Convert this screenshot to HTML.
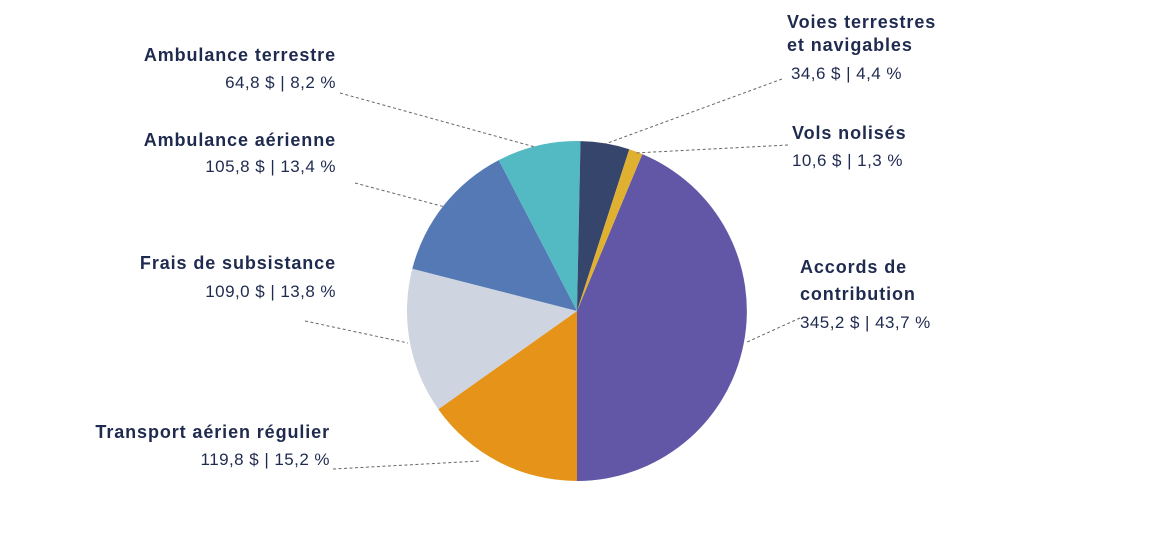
<!DOCTYPE html>
<html><head><meta charset="utf-8"><style>
html,body{margin:0;padding:0;background:#fff;}
svg{display:block;}
text{font-family:"Liberation Sans",sans-serif;fill:#1f2a4f;}
.b{font-weight:bold;font-size:18px;letter-spacing:0.9px;}
.r{font-size:17px;letter-spacing:0.45px;}
line{stroke:#666;stroke-width:1;stroke-dasharray:3,2.5;}
path{stroke:none;}
</style></head><body>
<svg width="1170" height="536" viewBox="0 0 1170 536">
<path d="M577,311 L642.3,154.1 A170,170 0 0 1 577,481 Z" fill="#6157a6"/>
<path d="M577,311 L577,481 A170,170 0 0 1 438.3,409.2 Z" fill="#e59419"/>
<path d="M577,311 L438.3,409.2 A170,170 0 0 1 412.3,268.7 Z" fill="#cfd5e0"/>
<path d="M577,311 L412.3,268.7 A170,170 0 0 1 498.8,160.1 Z" fill="#5479b5"/>
<path d="M577,311 L498.8,160.1 A170,170 0 0 1 580.5,141.1 Z" fill="#53bac4"/>
<path d="M577,311 L580.5,141.1 A170,170 0 0 1 629.3,149.2 Z" fill="#35456b"/>
<path d="M577,311 L629.3,149.2 A170,170 0 0 1 642.3,154.1 Z" fill="#e0b030"/>
<line x1="340" y1="93" x2="535" y2="147"/>
<line x1="355" y1="183" x2="445" y2="207"/>
<line x1="305" y1="321" x2="408" y2="343"/>
<line x1="333" y1="469" x2="480" y2="461"/>
<line x1="782" y1="79" x2="605" y2="144"/>
<line x1="788" y1="145" x2="635" y2="153"/>
<line x1="800" y1="318" x2="745" y2="343"/>
<g text-anchor="end">
<text class="b" x="336" y="61">Ambulance terrestre</text>
<text class="r" x="336" y="88">64,8 $ | 8,2 %</text>
<text class="b" x="336" y="146">Ambulance aérienne</text>
<text class="r" x="336" y="172">105,8 $ | 13,4 %</text>
<text class="b" x="336" y="269">Frais de subsistance</text>
<text class="r" x="336" y="297">109,0 $ | 13,8 %</text>
<text class="b" x="330" y="438">Transport aérien régulier</text>
<text class="r" x="330" y="465">119,8 $ | 15,2 %</text>
</g>
<text class="b" x="787" y="28">Voies terrestres</text>
<text class="b" x="787" y="51">et navigables</text>
<text class="r" x="791" y="79">34,6 $ | 4,4 %</text>
<text class="b" x="792" y="139">Vols nolisés</text>
<text class="r" x="792" y="166">10,6 $ | 1,3 %</text>
<text class="b" x="800" y="273">Accords de</text>
<text class="b" x="800" y="300">contribution</text>
<text class="r" x="800" y="328">345,2 $ | 43,7 %</text>
</svg>
</body></html>
